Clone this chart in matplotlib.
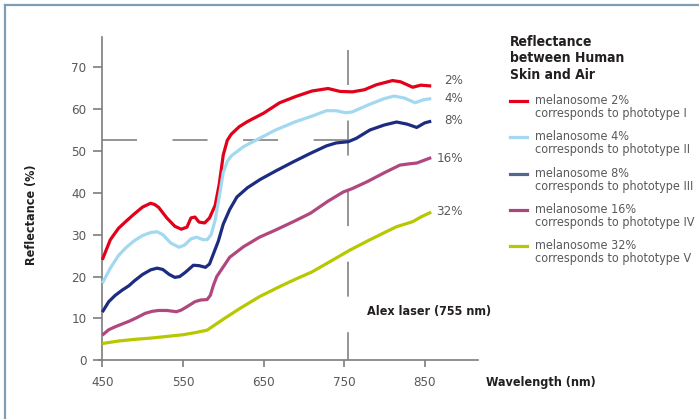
import matplotlib
matplotlib.use("Agg")
import matplotlib.pyplot as plt
from matplotlib.lines import Line2D
from matplotlib import font_manager as fm

plt.rcParams['lines.scale_dashes'] = False
names = {f.name for f in fm.fontManager.ttflist}
fam = ['Liberation Sans Narrow'] if 'Liberation Sans Narrow' in names else []
plt.rcParams['font.family'] = fam + ['DejaVu Sans']
plt.rcParams['font.stretch'] = 'condensed'

# ---- data ----
wl_2 = [450, 460, 470, 480, 490, 500, 510, 515, 520, 530, 540, 548, 555, 560, 565, 570, 577, 583,
        590, 595, 600, 605, 610, 620, 630, 650, 670, 690, 710, 730, 745, 760, 775, 790, 810, 820,
        835, 845, 858]
r_2 = [24, 28.8, 31.5, 33.3, 35, 36.6, 37.5, 37.2, 36.5, 34, 32, 31.3, 31.8, 34, 34.2, 33, 32.8, 34,
       37, 42, 49, 52.5, 54, 55.8, 57, 59, 61.5, 63, 64.3, 64.9, 64.2, 64.1, 64.6, 65.8, 66.8, 66.5,
       65.2, 65.7, 65.5]

wl_4 = [450, 460, 470, 480, 490, 500, 510, 518, 525, 535, 545, 552, 560, 567, 575, 580, 585, 590,
        595, 600, 605, 610, 625, 645, 665, 690, 710, 728, 740, 752, 760, 780, 800, 812, 825, 838,
        848, 858]
r_4 = [18.4, 22, 25, 27, 28.6, 29.8, 30.5, 30.7, 30, 28, 27, 27.5, 29, 29.4, 28.8, 28.8, 30, 33.5,
       39, 44.8, 47.5, 48.8, 51, 53, 55, 57, 58.3, 59.6, 59.6, 59.1, 59.3, 61, 62.5, 63.1, 62.6, 61.5,
       62.2, 62.5]

wl_8 = [450, 458, 466, 475, 483, 490, 500, 510, 518, 525, 533, 540, 546, 553, 563, 570, 578, 583,
        588, 594, 600, 608, 617, 630, 646, 665, 687, 708, 728, 740, 755, 765, 782, 800, 815, 828,
        840, 850, 858]
r_8 = [11.5, 14, 15.5, 16.8, 17.8, 19, 20.5, 21.6, 22, 21.7, 20.5, 19.8, 20, 21, 22.7, 22.6, 22.2, 23,
       25.5, 28.5, 32.5, 36, 39, 41.2, 43.2, 45.2, 47.4, 49.4, 51.2, 51.9, 52.2, 53, 55, 56.2, 56.9,
       56.4, 55.6, 56.7, 57.1]

wl_16 = [450, 458, 466, 475, 483, 493, 503, 512, 520, 530, 542, 548, 555, 565, 572, 580, 584, 588,
         592, 600, 608, 625, 645, 666, 688, 708, 730, 749, 760, 778, 800, 819, 830, 840, 858]
r_16 = [6, 7.3, 8, 8.7, 9.3, 10.2, 11.2, 11.7, 11.9, 11.9, 11.6, 12, 12.8, 14, 14.4, 14.5, 15.5, 18,
        20, 22.3, 24.6, 27.1, 29.4, 31.2, 33.2, 35.1, 38, 40.2, 41, 42.6, 44.8, 46.6, 46.9, 47.1, 48.4]

wl_32 = [450, 470, 490, 510, 530, 550, 565, 580, 590, 600, 620, 645, 670, 690, 710, 730, 757, 780,
         800, 815, 835, 845, 858]
r_32 = [4, 4.6, 5, 5.3, 5.7, 6.1, 6.6, 7.2, 8.5, 9.8, 12.3, 15.2, 17.6, 19.4, 21.1, 23.3, 26.3, 28.6,
        30.5, 31.9, 33.1, 34.2, 35.4]

end_labels = ["2%", "4%", "8%", "16%", "32%"]
legend_labels = ["melanosome 2%\ncorresponds to phototype I",
                 "melanosome 4%\ncorresponds to phototype II",
                 "melanosome 8%\ncorresponds to phototype III",
                 "melanosome 16%\ncorresponds to phototype IV",
                 "melanosome 32%\ncorresponds to phototype V"]
x_ticks = [450, 550, 650, 750, 850]
y_ticks = [0, 10, 20, 30, 40, 50, 60, 70]
laser_wl = 755
laser_refl = 52.5

line_colors = ["#e2001a", "#a2d8f0", "#1c2c80", "#b0487f", "#b7c800"]
legend_colors = ["#e2001a", "#a2d8f0", "#52678f", "#a8457d", "#b7c800"]
label_y = [81, 99, 120, 159, 211]  # pixel rows of end labels

W, H = 699, 419
fig = plt.figure(figsize=(W / 100, H / 100), dpi=100)
fig.patch.set_facecolor("white")

def fx(px):
    return px / W

def fy(py):
    return 1 - py / H

left_px, right_px, bot_px, top_px = 99.3, 478, 360.3, 37
ax = fig.add_axes([fx(left_px), fy(bot_px), (right_px - left_px) / W, (bot_px - top_px) / H])
ax.set_xlim(446.3, 916)
ax.set_ylim(0, 77.2)
ax.patch.set_alpha(0)

axis_col = "#7d7d7d"
tick_col = "#58595b"
dark = "#231f20"
for s in ["top", "right"]:
    ax.spines[s].set_visible(False)
ax.spines["left"].set_position(("data", 450))
for s in ["left", "bottom"]:
    ax.spines[s].set_color(axis_col)
    ax.spines[s].set_linewidth(1.2)

ax.set_xticks(x_ticks)
ax.set_yticks(y_ticks)
ax.tick_params(axis="x", direction="out", length=5, width=1.2, color=axis_col,
               labelcolor=tick_col, labelsize=9.5, pad=6)
ax.tick_params(axis="y", direction="out", length=6.5, width=1.2, color=axis_col,
               labelcolor=tick_col, labelsize=9.5, pad=5)

dash = (0, (25.2, 25.6))
ax.plot([450, laser_wl], [laser_refl, laser_refl], color="#8c8c8c", lw=1.3, ls=dash, zorder=1)
ax.plot([laser_wl, laser_wl], [74.1, 0], color="#8c8c8c", lw=1.3, ls=dash, zorder=1)

series = [(wl_2, r_2), (wl_4, r_4), (wl_8, r_8), (wl_16, r_16), (wl_32, r_32)]
for (wl, r), c in zip(series, line_colors):
    ax.plot(wl, r, color=c, lw=2.3, solid_joinstyle="round", solid_capstyle="butt", zorder=3)

for lab, py in zip(end_labels, label_y):
    fig.text(fx(463), fy(py), lab, ha="right", va="center", fontsize=9.5, color=tick_col)

fig.text(fx(367), fy(311), "Alex laser (755 nm)", ha="left", va="center",
         fontsize=9, fontweight="bold", color=dark)
fig.text(fx(486), fy(382), "Wavelength (nm)", ha="left", va="center",
         fontsize=9, fontweight="bold", color=dark)
fig.text(fx(31), fy(215), "Reflectance (%)", ha="center", va="center", rotation=90,
         fontsize=9, fontweight="bold", color=dark)

# legend
for j, line in enumerate(["Reflectance", "between Human", "Skin and Air"]):
    fig.text(fx(510), fy(41.5 + 16.8 * j), line, ha="left", va="center",
             fontsize=10, fontweight="bold", color=dark)
entry_y0 = 101
entry_dy = 36.3
for i, (lab, c) in enumerate(zip(legend_labels, legend_colors)):
    yy = entry_y0 + i * entry_dy
    fig.add_artist(Line2D([fx(510), fx(527)], [fy(yy), fy(yy)], color=c, lw=2.3,
                          transform=fig.transFigure))
    fig.text(fx(535), fy(yy - 7), lab, ha="left", va="top", fontsize=9, color=tick_col,
             linespacing=1.0)

bc = "#7f9cb9"
fig.add_artist(Line2D([fx(4.5), 1], [fy(5), fy(5)], color=bc, lw=1.6, transform=fig.transFigure))
fig.add_artist(Line2D([fx(4.5), fx(4.5)], [fy(5), 0], color=bc, lw=1.6, transform=fig.transFigure))

fig.savefig("out.png", dpi=100)
